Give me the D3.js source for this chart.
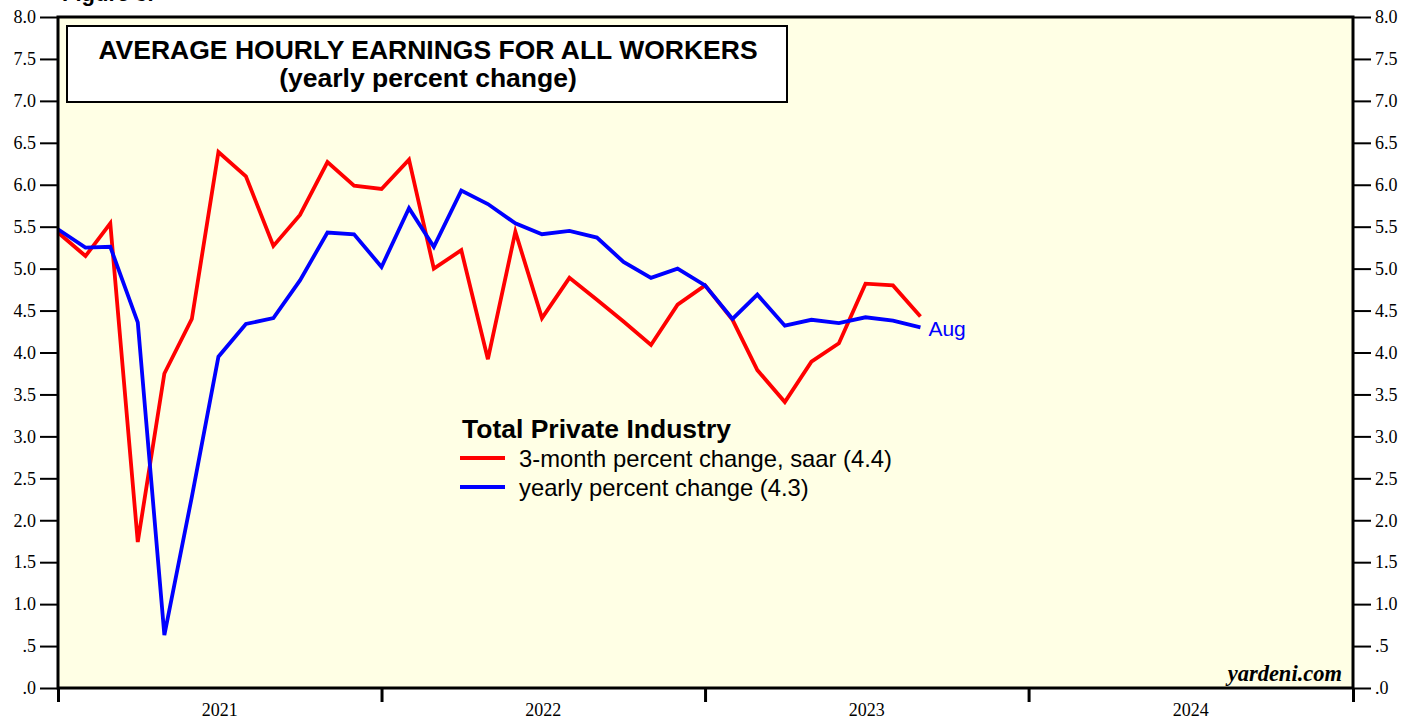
<!DOCTYPE html>
<html>
<head>
<meta charset="utf-8">
<script src="https://cdn.jsdelivr.net/npm/d3@7"></script>
<style>
  body { margin: 0; background: #fff; }
  svg { display: block; }
</style>
</head>
<body>
<svg width="1419" height="719"></svg>
<script>
// monthly data, Dec 2020 .. Aug 2023 (plotted at month end)
const firstMonth = new Date(Date.UTC(2020, 11, 1))
const threeMonth = [5.43, 5.15, 5.54, 1.74, 3.75, 4.40, 6.39, 6.10, 5.27, 5.64, 6.27, 5.99, 5.95,
  6.30, 5.00, 5.22, 3.92, 5.44, 4.41, 4.89, 4.63, 4.37, 4.09, 4.57, 4.80, 4.39, 3.79, 3.41,
  3.89, 4.11, 4.82, 4.80, 4.43]
const yearly = [5.47, 5.25, 5.26, 4.36, 0.63, 2.28, 3.95, 4.34, 4.41, 4.86, 5.43, 5.41, 5.02,
  5.72, 5.26, 5.93, 5.77, 5.54, 5.41, 5.45, 5.37, 5.08, 4.89, 5.00, 4.80, 4.40, 4.69, 4.32,
  4.39, 4.35, 4.42, 4.38, 4.30]
const years = [2021, 2022, 2023, 2024]
const yTicks = d3.range(0, 8.01, 0.5)

const svg = d3.select('svg')
const pLeft = 58, pRight = 1353, pTop = 17, pBottom = 688

const x = d3.scaleUtc()
    .domain([new Date(Date.UTC(2021, 0, 1)), new Date(Date.UTC(2025, 0, 1))])
    .range([pLeft, pRight])
const y = d3.scaleLinear().domain([0, 8]).range([pBottom, pTop])

// month-end dates
const dates = threeMonth.map((d, i) => d3.utcMonth.offset(firstMonth, i + 1))

svg.append('rect')
    .attr('x', pLeft).attr('y', pTop)
    .attr('width', pRight - pLeft).attr('height', pBottom - pTop)
    .attr('fill', '#ffffe5')

const fmt = v => v === 0 ? '.0' : (v < 1 ? d3.format('.1f')(v).slice(1) : d3.format('.1f')(v))

const yl = svg.append('g').attr('transform', `translate(${pLeft},0)`)
    .call(d3.axisLeft(y).tickValues(yTicks).tickSize(18).tickPadding(4).tickFormat(fmt))
const yr = svg.append('g').attr('transform', `translate(${pRight},0)`)
    .call(d3.axisRight(y).tickValues(yTicks).tickSize(18).tickPadding(4).tickFormat(fmt))
for (const g of [yl, yr]) {
  g.select('.domain').remove()
  g.selectAll('line').attr('stroke', '#000').attr('stroke-width', 2)
  g.selectAll('text').attr('font-family', 'Liberation Serif, Times New Roman, serif')
      .attr('font-size', 18).attr('fill', '#000')
}

const xa = svg.append('g').attr('transform', `translate(0,${pBottom})`)
    .call(d3.axisBottom(x)
      .tickValues(years.concat([2025]).map(yv => new Date(Date.UTC(yv, 0, 1))))
      .tickSize(14).tickFormat(''))
xa.select('.domain').remove()
xa.selectAll('line').attr('stroke', '#000').attr('stroke-width', 3)

svg.append('g').selectAll('text').data(years).join('text')
    .attr('x', d => (x(new Date(Date.UTC(d, 0, 1))) + x(new Date(Date.UTC(d + 1, 0, 1)))) / 2)
    .attr('y', 716)
    .attr('text-anchor', 'middle')
    .attr('font-family', 'Liberation Serif, Times New Roman, serif')
    .attr('font-size', 18)
    .text(d => d)

const line = d3.line().x((d, i) => x(dates[i])).y(d => y(d))

svg.append('path').attr('d', line(threeMonth))
    .attr('fill', 'none').attr('stroke', '#ff0000').attr('stroke-width', 3.8)
    .attr('stroke-linejoin', 'miter')
svg.append('path').attr('d', line(yearly))
    .attr('fill', 'none').attr('stroke', '#0000ff').attr('stroke-width', 3.8)
    .attr('stroke-linejoin', 'miter')

svg.append('text')
    .attr('x', x(dates[dates.length - 1]) + 8)
    .attr('y', y(yearly[yearly.length - 1]) + 9)
    .attr('font-family', 'Liberation Sans, Arial, sans-serif')
    .attr('font-size', 21).attr('fill', '#0000ff')
    .text('Aug')

// frame
svg.append('rect')
    .attr('x', pLeft).attr('y', pTop)
    .attr('width', pRight - pLeft).attr('height', pBottom - pTop)
    .attr('fill', 'none').attr('stroke', '#000').attr('stroke-width', 3)

// title box
svg.append('rect')
    .attr('x', 67).attr('y', 26).attr('width', 720).attr('height', 76)
    .attr('fill', '#fff').attr('stroke', '#000').attr('stroke-width', 2)
const title = svg.append('text')
    .attr('text-anchor', 'middle')
    .attr('font-family', 'Liberation Sans, Arial, sans-serif')
    .attr('font-weight', 'bold').attr('font-size', 26.5)
title.append('tspan').attr('x', 428).attr('y', 59).text('AVERAGE HOURLY EARNINGS FOR ALL WORKERS')
title.append('tspan').attr('x', 428).attr('y', 87).text('(yearly percent change)')

svg.append('text')
    .attr('x', 62).attr('y', 1)
    .attr('font-family', 'Liberation Sans, Arial, sans-serif')
    .attr('font-weight', 'bold').attr('font-size', 22)
    .text('Figure 3.')

// legend
const lg = svg.append('g').attr('font-family', 'Liberation Sans, Arial, sans-serif')
lg.append('text').attr('x', 462).attr('y', 438)
    .attr('font-weight', 'bold').attr('font-size', 26.5).text('Total Private Industry')
const items = [
  { label: '3-month percent change, saar (4.4)', color: '#ff0000' },
  { label: 'yearly percent change (4.3)', color: '#0000ff' }
]
items.forEach((d, i) => {
  const yy = 458 + i * 29
  lg.append('line').attr('x1', 460).attr('x2', 505).attr('y1', yy).attr('y2', yy)
      .attr('stroke', d.color).attr('stroke-width', 3.8)
  lg.append('text').attr('x', 519).attr('y', yy + 9)
      .attr('font-size', 23.8).text(d.label)
})

svg.append('text')
    .attr('x', 1342).attr('y', 681)
    .attr('text-anchor', 'end')
    .attr('font-family', 'Liberation Serif, Times New Roman, serif')
    .attr('font-weight', 'bold').attr('font-style', 'italic').attr('font-size', 22.5)
    .text('yardeni.com')
</script>
</body>
</html>
